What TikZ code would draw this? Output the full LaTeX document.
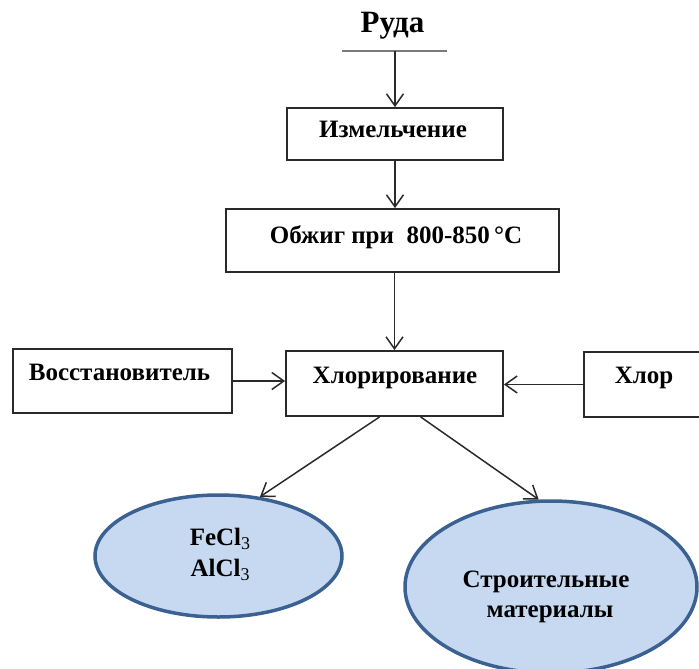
\documentclass[tikz,border=0pt]{standalone}
\usepackage{fontspec}
\setmainfont{Liberation Serif}
\usetikzlibrary{arrows.meta,shapes.geometric}
\definecolor{boxline}{HTML}{2A2A2A}
\definecolor{ellfill}{HTML}{C6D9F1}
\definecolor{elldraw}{HTML}{3A6192}
\definecolor{ulgray}{HTML}{7A7A7A}
\newcommand{\subthree}{\raisebox{-0.4ex}{\fontsize{18}{18}\selectfont\mdseries 3}}
\begin{document}
\begin{tikzpicture}[x=1pt,y=-1pt,
  box/.style={draw=boxline, line width=1.8pt, rectangle, inner sep=0pt},
  txt/.style={font=\fontsize{25}{30}\selectfont\bfseries, anchor=base, inner sep=0pt, text=black},
  ell/.style={ellipse, draw=elldraw, fill=ellfill, line width=3.5pt, inner sep=0pt},
  arr/.style={draw=boxline, line width=1.5pt, -{Straight Barb[length=12pt,width=17pt,line width=1.5pt]}}]
\useasboundingbox (0,0) rectangle (699,669);
% title
\node[txt, font=\fontsize{31}{36}\selectfont\bfseries] (ruda) at (392.5,33) {Руда};
\coordinate (ul1) at (342,51);
\coordinate (ul2) at (447,51);
\coordinate (ulm) at (395,51);
\draw[ulgray, line width=2.5pt] (ul1) -- (ul2);
% boxes
\node[box, minimum width=216pt, minimum height=52pt] (izm) at (395,134) {};
\node[box, minimum width=333pt, minimum height=63pt] (obzh) at (392.5,240.5) {};
\node[box, minimum width=217pt, minimum height=65pt] (hlorir) at (394.5,383.5) {};
\node[box, minimum width=219pt, minimum height=64pt] (vosst) at (122.5,381) {};
\node[box, minimum width=118pt, minimum height=65pt] (hlor) at (643,384.5) {};
% texts
\node[txt] (tizm) at (393,137) {Измельчение};
\node[txt] (tobzh) at (396,243) {Обжиг при\ \ 800-850\,°C};
\node[txt] (thlorir) at (395,383) {Хлорирование};
\node[txt] (tvosst) at (119.5,380) {Восстановитель};
\node[txt] (thlor) at (644,383) {Хлор};
% ellipses
\node[ell, minimum width=247pt, minimum height=122pt] (e1) at (218.5,556) {};
\node[ell, minimum width=292pt, minimum height=172pt] (e2) at (551,587) {};
\node[txt] (tfe) at (220,545) {FeCl\subthree};
\node[txt] (tal) at (220,576) {AlCl\subthree};
\node[txt] (tstr) at (546,587) {Строительные};
\node[txt] (tmat) at (550,617) {материалы};
% connectors
\draw[arr] (ulm) -- (izm.north);
\draw[arr] (izm.south) -- (izm.south |- obzh.north);
\draw[arr] (obzh.south -| hlorir.north) -- (hlorir.north);
\draw[arr] (vosst.east) -- (vosst.east -| hlorir.west);
\draw[arr] (hlor.west) -- (hlor.west -| hlorir.east);
\draw[arr] (hlorir.-114) -- (e1.55);
\draw[arr] (hlorir.-52) -- (e2.98);
\end{tikzpicture}
\end{document}
